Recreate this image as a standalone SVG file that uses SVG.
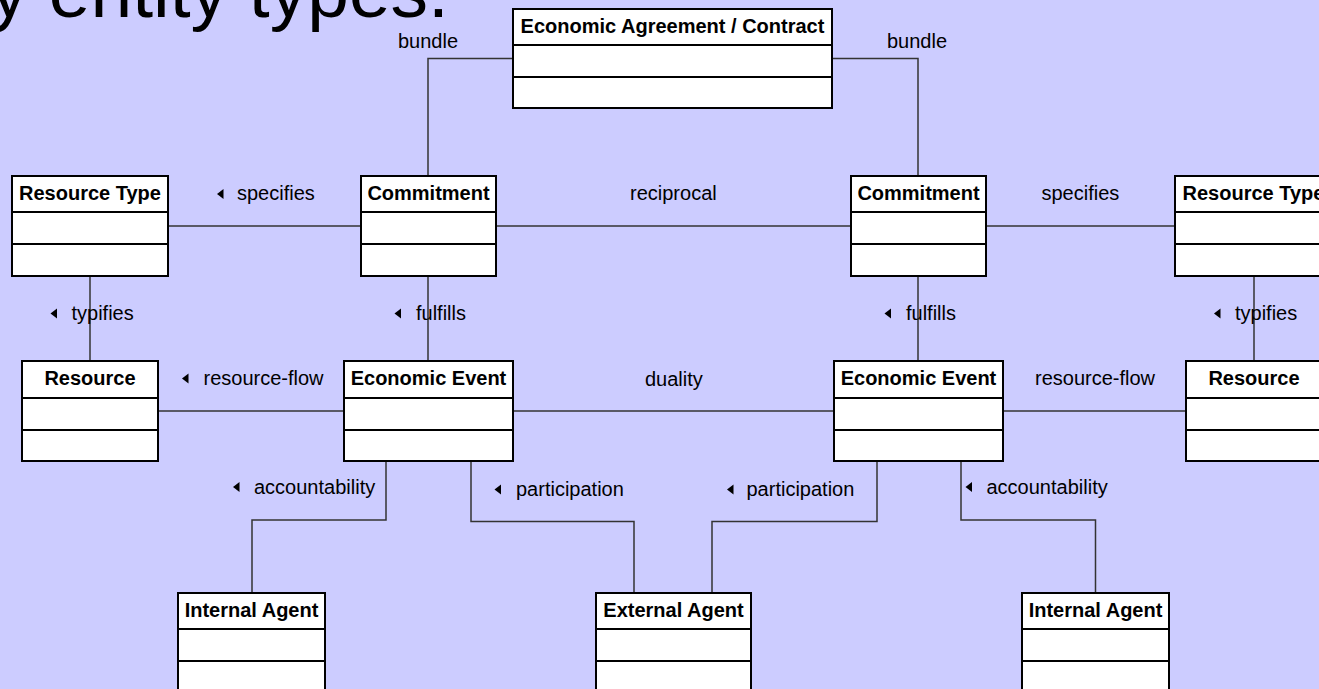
<svg xmlns="http://www.w3.org/2000/svg" xmlns:xlink="http://www.w3.org/1999/xlink" width="1319" height="689" viewBox="0 0 1319 689">
<style>
.box{fill:#fff;stroke:#000;stroke-width:2}
.sep{stroke:#000;stroke-width:2}
.hd{font-family:"Liberation Sans",Arial,sans-serif;font-size:20px;font-weight:bold;fill:#000;text-anchor:middle}
.lb{font-family:"Liberation Sans",Arial,sans-serif;font-size:20px;fill:#000}
.cn{fill:none;stroke:#333;stroke-width:1.5}
.title{font-family:"Liberation Sans",Arial,sans-serif;font-size:75px;fill:#000}
</style>
<defs>
<path id="tri" d="M-0.5,0 L6,-5 L6,5 Z" fill="#000"/>
</defs>
<rect x="0" y="0" width="1319" height="689" fill="#ccccff"/>
<text class="title" x="-9.6" y="17">y entity types.</text>

<g id="connectors">
<polyline class="cn" points="428,176 428,58.5 513,58.5"/>
<polyline class="cn" points="832,58.5 918,58.5 918,176"/>
<line class="cn" x1="168" y1="226" x2="361" y2="226"/>
<line class="cn" x1="496" y1="226" x2="851" y2="226"/>
<line class="cn" x1="986" y1="226" x2="1175" y2="226"/>
<line class="cn" x1="90" y1="276" x2="90" y2="361"/>
<line class="cn" x1="428" y1="276" x2="428" y2="361"/>
<line class="cn" x1="918" y1="276" x2="918" y2="361"/>
<line class="cn" x1="1254" y1="276" x2="1254" y2="361"/>
<line class="cn" x1="158" y1="411" x2="344" y2="411"/>
<line class="cn" x1="513" y1="411" x2="834" y2="411"/>
<line class="cn" x1="1003" y1="411" x2="1186" y2="411"/>
<polyline class="cn" points="386,461 386,520 252,520 252,593"/>
<polyline class="cn" points="471,461 471,521.5 634,521.5 634,593"/>
<polyline class="cn" points="877,461 877,521.5 712,521.5 712,593"/>
<polyline class="cn" points="961,461 961,520 1095.5,520 1095.5,593"/>

<text class="lb" x="398" y="48">bundle</text>
<text class="lb" x="887" y="48">bundle</text>
<use xlink:href="#tri" x="217.5" y="194"/>
<text class="lb" x="237" y="200">specifies</text>
<text class="lb" x="630" y="200">reciprocal</text>
<text class="lb" x="1041.5" y="200">specifies</text>
<use xlink:href="#tri" x="51" y="313.5"/>
<text class="lb" x="71.5" y="320">typifies</text>
<use xlink:href="#tri" x="395" y="313.5"/>
<text class="lb" x="416" y="320">fulfills</text>
<use xlink:href="#tri" x="885" y="313.5"/>
<text class="lb" x="906" y="320">fulfills</text>
<use xlink:href="#tri" x="1214.5" y="313.5"/>
<text class="lb" x="1235" y="320">typifies</text>
<use xlink:href="#tri" x="182.5" y="378.5"/>
<text class="lb" x="203.5" y="385">resource-flow</text>
<text class="lb" x="645" y="386">duality</text>
<text class="lb" x="1035" y="385">resource-flow</text>
<use xlink:href="#tri" x="233.5" y="487"/>
<text class="lb" x="254" y="493.5">accountability</text>
<use xlink:href="#tri" x="495" y="489.5"/>
<text class="lb" x="516" y="496">participation</text>
<use xlink:href="#tri" x="727.5" y="489.5"/>
<text class="lb" x="746.5" y="496">participation</text>
<use xlink:href="#tri" x="966" y="487"/>
<text class="lb" x="986.5" y="493.5">accountability</text>
</g>

<g id="agreement">
<rect class="box" x="513" y="9" width="319" height="99"/>
<line class="sep" x1="513" y1="45" x2="832" y2="45"/>
<line class="sep" x1="513" y1="77" x2="832" y2="77"/>
<text class="hd" x="672.5" y="33">Economic Agreement / Contract</text>
</g>

<g id="resource-type-left">
<rect class="box" x="12" y="176" width="156" height="100"/>
<line class="sep" x1="12" y1="212" x2="168" y2="212"/>
<line class="sep" x1="12" y1="244" x2="168" y2="244"/>
<text class="hd" x="90" y="200">Resource Type</text>
</g>

<g id="commitment-left">
<rect class="box" x="361" y="176" width="135" height="100"/>
<line class="sep" x1="361" y1="212" x2="496" y2="212"/>
<line class="sep" x1="361" y1="244" x2="496" y2="244"/>
<text class="hd" x="428.5" y="200">Commitment</text>
</g>

<g id="commitment-right">
<rect class="box" x="851" y="176" width="135" height="100"/>
<line class="sep" x1="851" y1="212" x2="986" y2="212"/>
<line class="sep" x1="851" y1="244" x2="986" y2="244"/>
<text class="hd" x="918.5" y="200">Commitment</text>
</g>

<g id="resource-type-right">
<rect class="box" x="1175" y="176" width="156" height="100"/>
<line class="sep" x1="1175" y1="212" x2="1331" y2="212"/>
<line class="sep" x1="1175" y1="244" x2="1331" y2="244"/>
<text class="hd" x="1253.5" y="200">Resource Type</text>
</g>

<g id="resource-left">
<rect class="box" x="22" y="361" width="136" height="100"/>
<line class="sep" x1="22" y1="398" x2="158" y2="398"/>
<line class="sep" x1="22" y1="430" x2="158" y2="430"/>
<text class="hd" x="90" y="385">Resource</text>
</g>

<g id="economic-event-left">
<rect class="box" x="344" y="361" width="169" height="100"/>
<line class="sep" x1="344" y1="398" x2="513" y2="398"/>
<line class="sep" x1="344" y1="430" x2="513" y2="430"/>
<text class="hd" x="428.5" y="385">Economic Event</text>
</g>

<g id="economic-event-right">
<rect class="box" x="834" y="361" width="169" height="100"/>
<line class="sep" x1="834" y1="398" x2="1003" y2="398"/>
<line class="sep" x1="834" y1="430" x2="1003" y2="430"/>
<text class="hd" x="918.5" y="385">Economic Event</text>
</g>

<g id="resource-right">
<rect class="box" x="1186" y="361" width="136" height="100"/>
<line class="sep" x1="1186" y1="398" x2="1322" y2="398"/>
<line class="sep" x1="1186" y1="430" x2="1322" y2="430"/>
<text class="hd" x="1254" y="385">Resource</text>
</g>

<g id="internal-agent-left">
<rect class="box" x="178" y="593" width="147" height="100"/>
<line class="sep" x1="178" y1="629" x2="325" y2="629"/>
<line class="sep" x1="178" y1="661" x2="325" y2="661"/>
<text class="hd" x="251.5" y="617">Internal Agent</text>
</g>

<g id="external-agent">
<rect class="box" x="596" y="593" width="155" height="100"/>
<line class="sep" x1="596" y1="629" x2="751" y2="629"/>
<line class="sep" x1="596" y1="661" x2="751" y2="661"/>
<text class="hd" x="673.5" y="617">External Agent</text>
</g>

<g id="internal-agent-right">
<rect class="box" x="1022" y="593" width="147" height="100"/>
<line class="sep" x1="1022" y1="629" x2="1169" y2="629"/>
<line class="sep" x1="1022" y1="661" x2="1169" y2="661"/>
<text class="hd" x="1095.5" y="617">Internal Agent</text>
</g>
</svg>
